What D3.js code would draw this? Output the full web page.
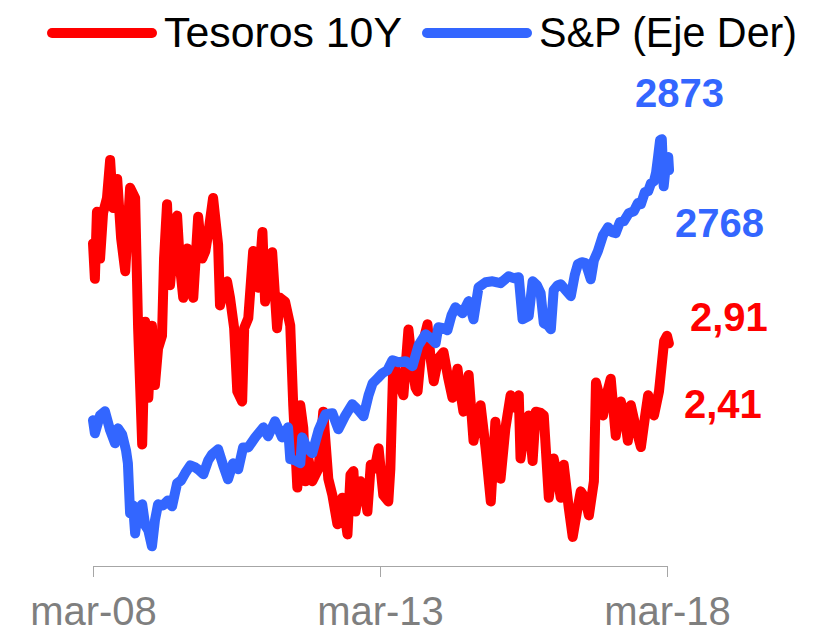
<!DOCTYPE html>
<html lang="es">
<head>
<meta charset="UTF-8">
<title>Tesoros 10Y vs S&amp;P</title>
<script src="https://d3js.org/d3.v7.min.js"></script>
<style>
body { margin:0; background:#fff; }
svg { display:block; font-family:"Liberation Sans", Arial, sans-serif; }
.serie { fill:none; stroke-width:10; stroke-linejoin:round; stroke-linecap:round; }
.eje path, .eje line { stroke:#a6a6a6; }
</style>
</head>
<body>
<svg width="818" height="634"></svg>
<script>
// datos
var series = ["Tesoros 10Y", "S&P (Eje Der)"]
var ticksFechas = ["2008-03-01", "2013-03-01", "2018-03-01"]
var ticksEtiquetas = ["mar-08", "mar-13", "mar-18"]
var etiquetasValores = ["2873", "2768", "2,91", "2,41"]

var fechasTesoros = ["2008-03-01","2008-03-13","2008-03-26","2008-04-15","2008-05-04","2008-05-29","2008-06-18","2008-07-07","2008-08-02","2008-08-27",
  "2008-09-22","2008-10-23","2008-11-24","2008-12-13","2009-01-08","2009-01-27","2009-02-16","2009-03-11","2009-03-30","2009-04-19",
  "2009-05-14","2009-05-27","2009-06-15","2009-07-04","2009-07-30","2009-08-18","2009-09-07","2009-09-26","2009-10-21","2009-11-10",
  "2009-11-29","2009-12-30","2010-01-25","2010-02-14","2010-03-09","2010-04-04","2010-05-06","2010-05-18","2010-06-13","2010-07-02",
  "2010-07-21","2010-08-16","2010-09-05","2010-10-06","2010-10-19","2010-11-14","2010-12-15","2011-01-17","2011-02-12","2011-03-01",
  "2011-03-20","2011-04-15","2011-05-16","2011-06-05","2011-07-06","2011-08-08","2011-08-27","2011-09-22","2011-10-11","2011-10-30",
  "2011-11-12","2011-12-01","2011-12-26","2012-02-04","2012-03-05","2012-04-06","2012-05-02","2012-06-03","2012-07-04","2012-08-06",
  "2012-08-25","2012-09-13","2012-09-26","2012-10-28","2012-11-16","2012-12-11","2013-01-01","2013-01-26","2013-02-20","2013-03-22",
  "2013-04-23","2013-05-06","2013-05-25","2013-06-26","2013-07-28","2013-08-29","2013-09-24","2013-10-13","2013-10-26","2013-11-20",
  "2013-12-28","2014-01-17","2014-02-06","2014-03-07","2014-04-09","2014-05-10","2014-06-05","2014-07-07","2014-07-26","2014-08-14",
  "2014-09-16","2014-10-17","2014-11-12","2014-12-01","2015-01-02","2015-02-04","2015-03-05","2015-04-07","2015-05-08","2015-06-10",
  "2015-07-11","2015-08-01","2015-08-12","2015-09-08","2015-10-03","2015-10-28","2015-11-17","2015-12-18","2016-01-07","2016-02-08",
  "2016-03-10","2016-04-05","2016-04-24","2016-05-13","2016-06-14","2016-07-09","2016-08-04","2016-08-29","2016-09-25","2016-10-20",
  "2016-11-21","2016-12-04","2016-12-29","2017-01-18","2017-02-13","2017-03-08","2017-04-09","2017-05-11","2017-06-06","2017-06-25",
  "2017-07-14","2017-08-15","2017-09-16","2017-10-11","2017-11-01","2017-12-08","2018-01-09","2018-02-11","2018-03-01","2018-03-13"]
var tesoros = [3.65,3.37,3.90,3.53,3.89,4.01,4.31,3.93,4.16,3.69,
  3.43,4.09,4.01,2.98,2.06,3.03,2.43,3.00,2.53,2.82,
  2.92,3.53,3.96,3.32,3.69,3.87,3.45,3.22,3.61,3.30,
  3.22,3.86,3.53,3.59,3.77,4.01,3.64,3.16,3.30,3.35,
  3.22,2.98,2.48,2.40,2.98,3.06,3.59,3.30,3.74,3.19,
  3.37,3.58,2.98,3.22,3.19,3.00,2.37,1.72,2.37,2.19,
  1.77,1.95,1.77,1.87,2.32,1.79,1.66,1.43,1.64,1.35,
  1.82,1.85,1.53,1.77,1.74,1.53,1.90,1.87,2.03,1.66,
  1.61,1.87,2.72,2.56,2.45,2.97,2.66,2.51,2.48,2.82,
  3.01,2.74,2.56,2.74,2.79,2.58,2.43,2.66,2.47,2.32,
  2.61,2.09,2.27,2.37,2.03,1.61,2.24,1.79,2.19,2.45,
  2.35,2.45,1.95,2.19,2.29,1.93,2.32,2.31,2.29,1.64,
  1.95,1.79,1.64,1.90,1.56,1.33,1.52,1.69,1.64,1.50,
  1.77,2.55,2.43,2.29,2.47,2.58,2.13,2.40,2.27,2.09,
  2.37,2.19,2.04,2.27,2.45,2.29,2.48,2.88,2.92,2.86]

var fechasSP = ["2008-03-01","2008-03-13","2008-04-15","2008-05-16","2008-06-18","2008-07-19","2008-08-07","2008-09-02","2008-09-27","2008-10-09",
  "2008-10-23","2008-11-11","2008-11-24","2008-12-13","2009-01-08","2009-01-27","2009-02-16","2009-03-11","2009-03-30","2009-04-19",
  "2009-05-20","2009-06-21","2009-07-17","2009-08-18","2009-09-13","2009-10-08","2009-11-10","2009-12-12","2010-01-06","2010-02-01",
  "2010-03-04","2010-03-29","2010-05-06","2010-06-07","2010-07-08","2010-08-09","2010-09-11","2010-10-12","2010-11-14","2010-12-28",
  "2011-02-18","2011-03-20","2011-05-03","2011-06-17","2011-07-25","2011-08-08","2011-09-09","2011-10-11","2011-10-23","2011-11-24",
  "2011-12-26","2012-02-04","2012-03-19","2012-05-02","2012-06-09","2012-07-24","2012-09-06","2012-10-15","2012-11-16","2012-12-18",
  "2013-01-13","2013-02-14","2013-03-16","2013-04-17","2013-05-19","2013-06-26","2013-08-10","2013-09-24","2013-11-01","2013-12-16",
  "2014-01-17","2014-02-18","2014-03-07","2014-04-09","2014-05-04","2014-05-30","2014-06-24","2014-08-08","2014-09-16","2014-10-17",
  "2014-11-18","2015-01-02","2015-02-15","2015-04-07","2015-05-28","2015-06-29","2015-08-01","2015-08-25","2015-10-03","2015-10-28",
  "2015-11-24","2015-12-18","2016-01-07","2016-02-02","2016-02-21","2016-03-10","2016-04-05","2016-04-24","2016-05-26","2016-06-27",
  "2016-07-22","2016-08-11","2016-09-05","2016-09-30","2016-11-01","2016-11-21","2016-12-16","2017-01-18","2017-02-19","2017-03-16",
  "2017-04-09","2017-05-05","2017-05-30","2017-07-01","2017-08-02","2017-08-28","2017-09-16","2017-10-11","2017-11-01","2017-11-19",
  "2017-12-08","2017-12-21","2018-01-03","2018-01-16","2018-01-27","2018-02-08","2018-02-22","2018-03-09","2018-03-14"]
var sp = [1356,1286,1383,1405,1302,1232,1313,1281,1194,1124,
  854,897,746,870,903,789,762,676,816,903,
  897,924,892,1016,1032,1070,1113,1102,1086,1065,
  1140,1173,1200,1113,1038,1124,1092,1210,1210,1264,
  1318,1270,1351,1264,1318,1146,1140,1124,1264,1205,
  1178,1302,1389,1394,1308,1383,1443,1410,1378,1491,
  1556,1583,1610,1626,1680,1669,1675,1648,1761,1820,
  1799,1772,1858,1853,1842,1923,1966,1934,1999,1901,
  2074,2101,2106,2096,2133,2123,2128,1901,1918,2106,
  2085,2042,1880,1869,1847,2058,2085,2090,2058,2026,
  2139,2198,2209,2204,2117,2220,2268,2355,2398,2371,
  2366,2425,2430,2474,2484,2528,2522,2587,2592,2635,
  2646,2690,2776,2868,2873,2619,2733,2776,2706]

var rojo = "#ff0000"
var azul = "#3366ff"

var parse = d3.timeParse("%Y-%m-%d")
var datosTesoros = fechasTesoros.map(function(f, i){ return {fecha: parse(f), valor: tesoros[i]} })
var datosSP = fechasSP.map(function(f, i){ return {fecha: parse(f), valor: sp[i]} })

var svg = d3.select("svg")
var izq = 93, der = 667, arriba = 60, abajo = 566

var x = d3.scaleTime()
  .domain([parse(ticksFechas[0]), parse(ticksFechas[2])])
  .range([izq, der])
var yIzq = d3.scaleLinear().domain([1.1, 5.1]).range([abajo, arriba])
var yDer = d3.scaleLinear().domain([570, 3300]).range([abajo, arriba])

// eje x (solo fechas)
var ejeX = d3.axisBottom(x)
  .tickValues(ticksFechas.map(parse))
  .tickFormat(function(d, i){ return ticksEtiquetas[i] })
  .tickSizeInner(11)
  .tickSizeOuter(0)
  .tickPadding(20)

var gx = svg.append("g").attr("class", "eje")
  .attr("transform", "translate(0," + abajo + ")")
  .call(ejeX)
gx.selectAll("text")
  .attr("font-family", "Liberation Sans, Arial, sans-serif")
  .attr("font-size", 40)
  .attr("fill", "#7f7f7f")

// lineas
var lineaIzq = d3.line().x(function(d){ return x(d.fecha) }).y(function(d){ return yIzq(d.valor) })
var lineaDer = d3.line().x(function(d){ return x(d.fecha) }).y(function(d){ return yDer(d.valor) })

svg.append("path").datum(datosTesoros).attr("class", "serie").attr("stroke", rojo).attr("d", lineaIzq)
svg.append("path").datum(datosSP).attr("class", "serie").attr("stroke", azul).attr("d", lineaDer)

// leyenda
var leyenda = [
  {nombre: series[0], color: rojo, x0: 52, ancho: 238},
  {nombre: series[1], color: azul, x0: 427, ancho: 258}
]
var gl = svg.append("g").selectAll("g").data(leyenda).enter().append("g")
gl.append("line")
  .attr("x1", function(d){ return d.x0 }).attr("x2", function(d){ return d.x0 + 100 })
  .attr("y1", 33).attr("y2", 33)
  .attr("stroke", function(d){ return d.color })
  .attr("stroke-width", 10).attr("stroke-linecap", "round")
gl.append("text")
  .attr("x", function(d){ return d.x0 + 112 }).attr("y", 47)
  .attr("font-size", 42).attr("fill", "#000")
  .attr("textLength", function(d){ return d.ancho })
  .attr("lengthAdjust", "spacingAndGlyphs")
  .text(function(d){ return d.nombre })

// etiquetas de valores
var posEtiquetas = [[635, 107, azul], [675, 237, azul], [690, 331, rojo], [684, 418, rojo]]
svg.append("g").selectAll("text").data(etiquetasValores).enter().append("text")
  .attr("x", function(d, i){ return posEtiquetas[i][0] })
  .attr("y", function(d, i){ return posEtiquetas[i][1] })
  .attr("fill", function(d, i){ return posEtiquetas[i][2] })
  .attr("font-size", 40).attr("font-weight", "bold")
  .text(function(d){ return d })
</script>
</body>
</html>
